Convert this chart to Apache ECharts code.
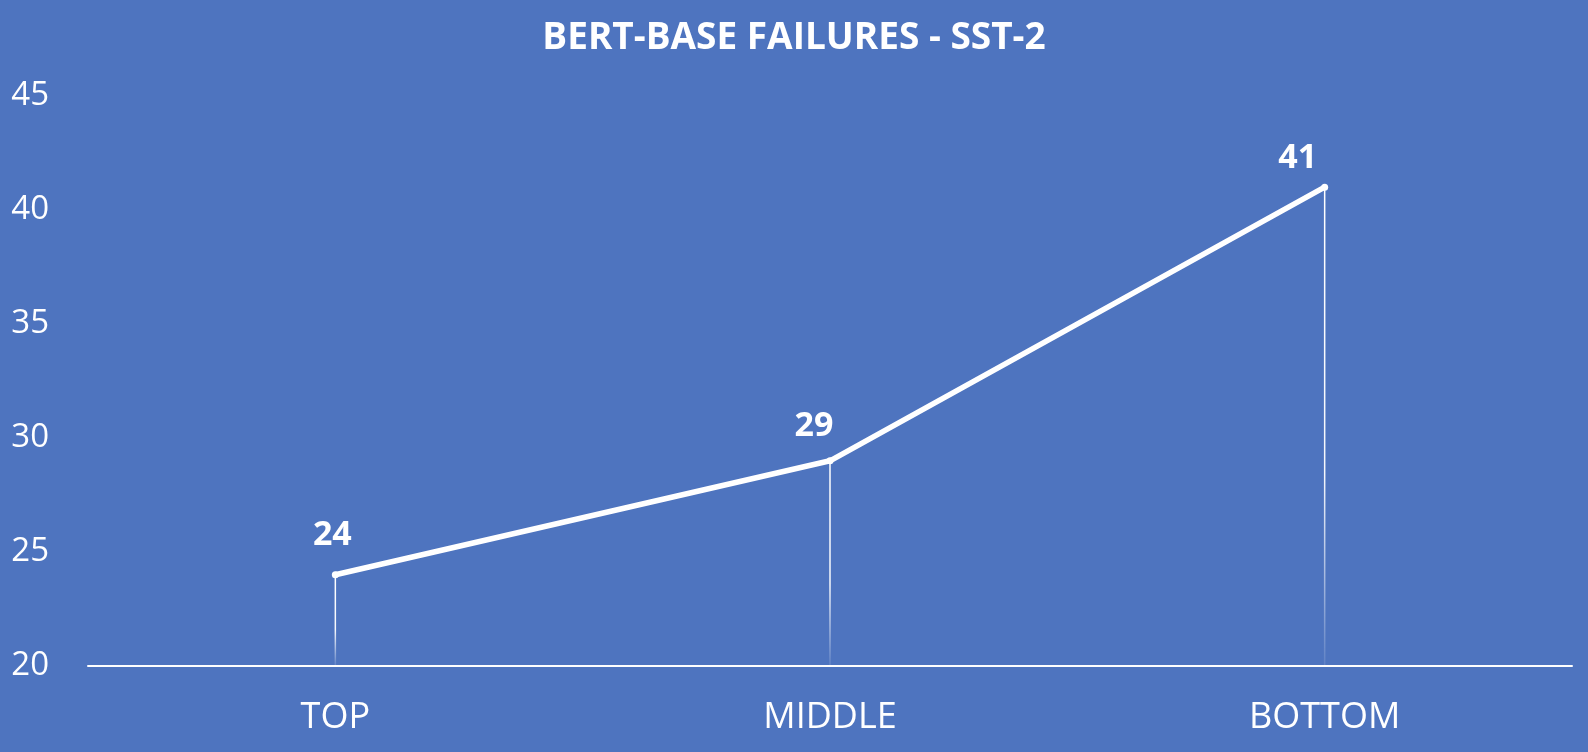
<!DOCTYPE html>
<html>
<head>
<meta charset="utf-8">
<title>BERT-BASE FAILURES - SST-2</title>
<script src="https://cdn.jsdelivr.net/npm/echarts@6/dist/echarts.min.js"></script>
<style>
  html, body { margin: 0; padding: 0; background: #4e74bf; }
  #chart { width: 1588px; height: 752px; }
</style>
</head>
<body>
<div id="chart"></div>
<script>
// data
const categories = ['TOP', 'MIDDLE', 'BOTTOM'];
const failures = [24, 29, 41];
const yTicks = { min: 20, max: 45, step: 5 };

// where each value label sits relative to its point
const labelOffsets = [[-3, -19], [-16, -14], [-27, -8]];

const FONT = '"Open Sans", "Noto Sans", sans-serif';

const chart = echarts.init(document.getElementById('chart'));

const option = {
    backgroundColor: '#4e74bf',
    animation: false,
    title: {
        text: 'BERT-BASE FAILURES - SST-2',
        left: 'center',
        top: 15,
        textStyle: { color: '#fff', fontFamily: FONT, fontWeight: 'bold', fontSize: 37 }
    },
    grid: { left: 88, right: 16, top: 96, bottom: 86 },
    xAxis: {
        type: 'category',
        data: categories,
        axisLine: { lineStyle: { color: '#fff', width: 2 } },
        axisTick: { show: false },
        axisLabel: { color: '#fff', fontFamily: FONT, fontSize: 36, margin: 34 }
    },
    yAxis: {
        type: 'value',
        min: yTicks.min,
        max: yTicks.max,
        interval: yTicks.step,
        splitLine: { show: false },
        axisLine: { show: false },
        axisTick: { show: false },
        axisLabel: { color: '#fff', fontFamily: FONT, fontSize: 33, margin: 39 }
    },
    series: [
        {
            // drop lines under each point
            type: 'bar',
            data: failures,
            barWidth: 1.5,
            silent: true,
            itemStyle: {
                color: new echarts.graphic.LinearGradient(0, 0, 0, 1, [
                    { offset: 0, color: 'rgba(255,255,255,1)' },
                    { offset: 0.6, color: 'rgba(255,255,255,0.95)' },
                    { offset: 1, color: 'rgba(255,255,255,0.1)' }
                ])
            }
        },
        {
            type: 'line',
            data: failures.map((v, i) => ({
                value: v,
                label: { offset: labelOffsets[i] }
            })),
            symbol: 'circle',
            symbolSize: 7,
            lineStyle: { color: '#fff', width: 5.5 },
            itemStyle: { color: '#fff' },
            z: 5,
            label: {
                show: true,
                position: 'top',
                distance: 0,
                color: '#fff',
                fontFamily: FONT,
                fontWeight: 'bold',
                fontSize: 34
            }
        }
    ]
};

chart.setOption(option);
</script>
</body>
</html>
